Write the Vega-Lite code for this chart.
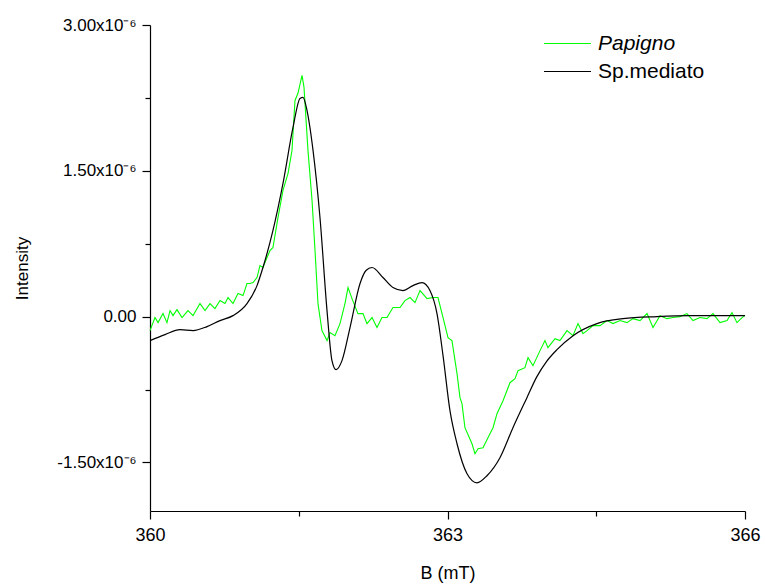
{
  "$schema": "https://vega.github.io/schema/vega-lite/v6.json",
  "width": 595,
  "height": 486,
  "autosize": {"type": "none"},
  "padding": {"left": 150, "top": 25, "right": 20, "bottom": 73},
  "background": "white",
  "config": {
    "view": {"stroke": null},
    "font": "Liberation Sans",
    "axis": {"grid": false, "domainColor": "#000", "tickColor": "#000", "labelColor": "#000", "titleColor": "#000", "labelFont": "Liberation Sans", "titleFont": "Liberation Sans", "titleFontWeight": "normal", "domainWidth": 1.2, "tickWidth": 1.2}
  },
  "data": {"values": [
    {"series":"Papigno","B":360.000,"intensity":-0.144},
    {"series":"Papigno","B":360.050,"intensity":-0.010},
    {"series":"Papigno","B":360.081,"intensity":-0.062},
    {"series":"Papigno","B":360.131,"intensity":0.031},
    {"series":"Papigno","B":360.171,"intensity":-0.062},
    {"series":"Papigno","B":360.202,"intensity":0.062},
    {"series":"Papigno","B":360.232,"intensity":0.010},
    {"series":"Papigno","B":360.272,"intensity":0.072},
    {"series":"Papigno","B":360.323,"intensity":-0.010},
    {"series":"Papigno","B":360.383,"intensity":0.062},
    {"series":"Papigno","B":360.434,"intensity":0.010},
    {"series":"Papigno","B":360.504,"intensity":0.134},
    {"series":"Papigno","B":360.555,"intensity":0.062},
    {"series":"Papigno","B":360.605,"intensity":0.134},
    {"series":"Papigno","B":360.655,"intensity":0.082},
    {"series":"Papigno","B":360.706,"intensity":0.165},
    {"series":"Papigno","B":360.756,"intensity":0.134},
    {"series":"Papigno","B":360.787,"intensity":0.196},
    {"series":"Papigno","B":360.837,"intensity":0.134},
    {"series":"Papigno","B":360.887,"intensity":0.237},
    {"series":"Papigno","B":360.938,"intensity":0.216},
    {"series":"Papigno","B":360.978,"intensity":0.340},
    {"series":"Papigno","B":361.008,"intensity":0.340},
    {"series":"Papigno","B":361.039,"intensity":0.350},
    {"series":"Papigno","B":361.079,"intensity":0.402},
    {"series":"Papigno","B":361.109,"intensity":0.525},
    {"series":"Papigno","B":361.139,"intensity":0.505},
    {"series":"Papigno","B":361.180,"intensity":0.608},
    {"series":"Papigno","B":361.210,"intensity":0.680},
    {"series":"Papigno","B":361.240,"intensity":0.711},
    {"series":"Papigno","B":361.291,"intensity":1.020},
    {"series":"Papigno","B":361.341,"intensity":1.298},
    {"series":"Papigno","B":361.392,"intensity":1.473},
    {"series":"Papigno","B":361.432,"intensity":1.710},
    {"series":"Papigno","B":361.462,"intensity":2.224},
    {"series":"Papigno","B":361.492,"intensity":2.297},
    {"series":"Papigno","B":361.533,"intensity":2.482},
    {"series":"Papigno","B":361.553,"intensity":2.358},
    {"series":"Papigno","B":361.593,"intensity":1.710},
    {"series":"Papigno","B":361.634,"intensity":1.195},
    {"series":"Papigno","B":361.664,"intensity":0.680},
    {"series":"Papigno","B":361.694,"intensity":0.134},
    {"series":"Papigno","B":361.734,"intensity":-0.144},
    {"series":"Papigno","B":361.785,"intensity":-0.247},
    {"series":"Papigno","B":361.815,"intensity":-0.165},
    {"series":"Papigno","B":361.865,"intensity":-0.196},
    {"series":"Papigno","B":361.916,"intensity":-0.072},
    {"series":"Papigno","B":361.966,"intensity":0.134},
    {"series":"Papigno","B":361.997,"intensity":0.299},
    {"series":"Papigno","B":362.037,"intensity":0.185},
    {"series":"Papigno","B":362.097,"intensity":0.031},
    {"series":"Papigno","B":362.148,"intensity":0.031},
    {"series":"Papigno","B":362.188,"intensity":-0.072},
    {"series":"Papigno","B":362.239,"intensity":-0.010},
    {"series":"Papigno","B":362.289,"intensity":-0.113},
    {"series":"Papigno","B":362.339,"intensity":-0.010},
    {"series":"Papigno","B":362.390,"intensity":-0.010},
    {"series":"Papigno","B":362.450,"intensity":0.093},
    {"series":"Papigno","B":362.521,"intensity":0.093},
    {"series":"Papigno","B":362.571,"intensity":0.165},
    {"series":"Papigno","B":362.622,"intensity":0.196},
    {"series":"Papigno","B":362.672,"intensity":0.144},
    {"series":"Papigno","B":362.723,"intensity":0.268},
    {"series":"Papigno","B":362.793,"intensity":0.185},
    {"series":"Papigno","B":362.854,"intensity":0.196},
    {"series":"Papigno","B":362.904,"intensity":0.196},
    {"series":"Papigno","B":362.955,"intensity":-0.010},
    {"series":"Papigno","B":363.005,"intensity":-0.216},
    {"series":"Papigno","B":363.045,"intensity":-0.247},
    {"series":"Papigno","B":363.096,"intensity":-0.587},
    {"series":"Papigno","B":363.126,"intensity":-0.834},
    {"series":"Papigno","B":363.146,"intensity":-0.896},
    {"series":"Papigno","B":363.176,"intensity":-1.143},
    {"series":"Papigno","B":363.247,"intensity":-1.308},
    {"series":"Papigno","B":363.277,"intensity":-1.411},
    {"series":"Papigno","B":363.308,"intensity":-1.359},
    {"series":"Papigno","B":363.358,"intensity":-1.349},
    {"series":"Papigno","B":363.408,"intensity":-1.246},
    {"series":"Papigno","B":363.459,"intensity":-1.143},
    {"series":"Papigno","B":363.499,"intensity":-0.999},
    {"series":"Papigno","B":363.560,"intensity":-0.865},
    {"series":"Papigno","B":363.630,"intensity":-0.680},
    {"series":"Papigno","B":363.681,"intensity":-0.639},
    {"series":"Papigno","B":363.711,"intensity":-0.556},
    {"series":"Papigno","B":363.781,"intensity":-0.525},
    {"series":"Papigno","B":363.812,"intensity":-0.422},
    {"series":"Papigno","B":363.862,"intensity":-0.505},
    {"series":"Papigno","B":363.933,"intensity":-0.350},
    {"series":"Papigno","B":363.983,"intensity":-0.247},
    {"series":"Papigno","B":364.013,"intensity":-0.319},
    {"series":"Papigno","B":364.084,"intensity":-0.227},
    {"series":"Papigno","B":364.134,"intensity":-0.247},
    {"series":"Papigno","B":364.205,"intensity":-0.144},
    {"series":"Papigno","B":364.265,"intensity":-0.196},
    {"series":"Papigno","B":364.316,"intensity":-0.072},
    {"series":"Papigno","B":364.366,"intensity":-0.175},
    {"series":"Papigno","B":364.407,"intensity":-0.144},
    {"series":"Papigno","B":364.467,"intensity":-0.093},
    {"series":"Papigno","B":364.538,"intensity":-0.093},
    {"series":"Papigno","B":364.608,"intensity":-0.041},
    {"series":"Papigno","B":364.669,"intensity":-0.072},
    {"series":"Papigno","B":364.739,"intensity":-0.041},
    {"series":"Papigno","B":364.810,"intensity":-0.062},
    {"series":"Papigno","B":364.871,"intensity":-0.021},
    {"series":"Papigno","B":364.941,"intensity":-0.041},
    {"series":"Papigno","B":365.012,"intensity":0.031},
    {"series":"Papigno","B":365.072,"intensity":-0.113},
    {"series":"Papigno","B":365.143,"intensity":0.010},
    {"series":"Papigno","B":365.213,"intensity":-0.021},
    {"series":"Papigno","B":365.274,"intensity":-0.010},
    {"series":"Papigno","B":365.344,"intensity":0.000},
    {"series":"Papigno","B":365.415,"intensity":0.031},
    {"series":"Papigno","B":365.476,"intensity":-0.041},
    {"series":"Papigno","B":365.546,"intensity":-0.010},
    {"series":"Papigno","B":365.617,"intensity":-0.021},
    {"series":"Papigno","B":365.677,"intensity":0.031},
    {"series":"Papigno","B":365.748,"intensity":-0.062},
    {"series":"Papigno","B":365.819,"intensity":-0.041},
    {"series":"Papigno","B":365.869,"intensity":0.041},
    {"series":"Papigno","B":365.919,"intensity":-0.062},
    {"series":"Papigno","B":365.970,"intensity":-0.010},
    {"series":"Papigno","B":366.000,"intensity":0.010},
    {"series":"Sp.mediato","B":360.000,"intensity":-0.247},
    {"series":"Sp.mediato","B":360.151,"intensity":-0.185},
    {"series":"Sp.mediato","B":360.303,"intensity":-0.134},
    {"series":"Sp.mediato","B":360.434,"intensity":-0.144},
    {"series":"Sp.mediato","B":360.575,"intensity":-0.103},
    {"series":"Sp.mediato","B":360.706,"intensity":-0.041},
    {"series":"Sp.mediato","B":360.837,"intensity":0.010},
    {"series":"Sp.mediato","B":360.978,"intensity":0.134},
    {"series":"Sp.mediato","B":361.079,"intensity":0.319},
    {"series":"Sp.mediato","B":361.139,"intensity":0.505},
    {"series":"Sp.mediato","B":361.240,"intensity":0.886},
    {"series":"Sp.mediato","B":361.341,"intensity":1.370},
    {"series":"Sp.mediato","B":361.442,"intensity":1.946},
    {"series":"Sp.mediato","B":361.513,"intensity":2.245},
    {"series":"Sp.mediato","B":361.543,"intensity":2.255},
    {"series":"Sp.mediato","B":361.583,"intensity":2.122},
    {"series":"Sp.mediato","B":361.644,"intensity":1.710},
    {"series":"Sp.mediato","B":361.714,"intensity":1.020},
    {"series":"Sp.mediato","B":361.785,"intensity":0.062},
    {"series":"Sp.mediato","B":361.835,"intensity":-0.453},
    {"series":"Sp.mediato","B":361.876,"intensity":-0.546},
    {"series":"Sp.mediato","B":361.936,"intensity":-0.453},
    {"series":"Sp.mediato","B":362.017,"intensity":-0.113},
    {"series":"Sp.mediato","B":362.118,"intensity":0.340},
    {"series":"Sp.mediato","B":362.178,"intensity":0.474},
    {"series":"Sp.mediato","B":362.239,"intensity":0.505},
    {"series":"Sp.mediato","B":362.349,"intensity":0.402},
    {"series":"Sp.mediato","B":362.450,"intensity":0.299},
    {"series":"Sp.mediato","B":362.551,"intensity":0.268},
    {"series":"Sp.mediato","B":362.652,"intensity":0.319},
    {"series":"Sp.mediato","B":362.743,"intensity":0.350},
    {"series":"Sp.mediato","B":362.823,"intensity":0.268},
    {"series":"Sp.mediato","B":362.894,"intensity":0.031},
    {"series":"Sp.mediato","B":362.955,"intensity":-0.402},
    {"series":"Sp.mediato","B":363.025,"intensity":-0.968},
    {"series":"Sp.mediato","B":363.096,"intensity":-1.308},
    {"series":"Sp.mediato","B":363.197,"intensity":-1.617},
    {"series":"Sp.mediato","B":363.297,"intensity":-1.710},
    {"series":"Sp.mediato","B":363.398,"intensity":-1.637},
    {"series":"Sp.mediato","B":363.529,"intensity":-1.452},
    {"series":"Sp.mediato","B":363.660,"intensity":-1.143},
    {"series":"Sp.mediato","B":363.801,"intensity":-0.834},
    {"series":"Sp.mediato","B":363.900,"intensity":-0.620},
    {"series":"Sp.mediato","B":364.000,"intensity":-0.460},
    {"series":"Sp.mediato","B":364.104,"intensity":-0.340},
    {"series":"Sp.mediato","B":364.266,"intensity":-0.196},
    {"series":"Sp.mediato","B":364.507,"intensity":-0.072},
    {"series":"Sp.mediato","B":364.770,"intensity":-0.021},
    {"series":"Sp.mediato","B":365.112,"intensity":0.000},
    {"series":"Sp.mediato","B":365.445,"intensity":0.010},
    {"series":"Sp.mediato","B":366.000,"intensity":0.010}
  ]},
  "encoding": {
    "x": {
      "field": "B", "type": "quantitative",
      "scale": {"domain": [360, 366], "nice": false, "zero": false},
      "axis": {
        "title": "B (mT)", "titleFontSize": 18, "titlePadding": 20,
        "values": [360, 361.5, 363, 364.5, 366],
        "labelExpr": "datum.value % 3 == 0 ? format(datum.value, 'd') : ''",
        "labelFontSize": 18, "labelFlush": false, "labelOverlap": false, "labelPadding": 7,
        "tickSize": {"condition": {"test": "datum.value % 3 != 0", "value": 5}, "value": 8}
      }
    },
    "y": {
      "field": "intensity", "type": "quantitative",
      "scale": {"domain": [-2, 3], "nice": false, "zero": false},
      "axis": {
        "title": "Intensity", "titleFontSize": 17, "titlePadding": 25,
        "values": [-1.5, -0.75, 0, 0.75, 1.5, 2.25, 3],
        "labelExpr": "datum.value == 0 ? '0.00' : (abs(datum.value) % 1.5 == 0 ? (datum.value < 0 ? '-' : '') + format(abs(datum.value), '.2f') + 'x10⁻⁶' : '')",
        "labelFontSize": 17, "labelOverlap": false, "labelPadding": 6,
        "tickSize": {"condition": {"test": "abs(datum.value) % 1.5 != 0", "value": 5}, "value": 8}
      }
    },
    "color": {
      "field": "series", "type": "nominal",
      "scale": {"domain": ["Papigno", "Sp.mediato"], "range": ["#00ff00", "#000000"]},
      "legend": {
        "title": null, "orient": "none", "legendX": 405, "legendY": 6,
        "symbolType": "M-2,0H2", "symbolSize": 552, "symbolStrokeWidth": 1.2,
        "labelFontSize": 21, "labelFont": "Liberation Sans", "labelColor": "#000",
        "labelFontStyle": {"expr": "datum.label == 'Papigno' ? 'italic' : 'normal'"},
        "labelOffset": 18, "rowPadding": 5, "padding": 0
      }
    }
  },
  "layer": [
    {"transform": [{"filter": "datum.series == 'Papigno'"}], "mark": {"type": "line", "interpolate": "linear", "strokeWidth": 1.1}},
    {"transform": [{"filter": "datum.series == 'Sp.mediato'"}], "mark": {"type": "line", "interpolate": "monotone", "strokeWidth": 1.2}}
  ]
}
